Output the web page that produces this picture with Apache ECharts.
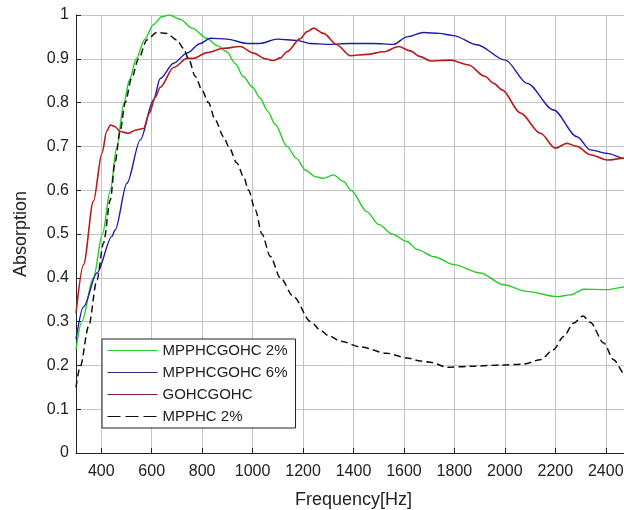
<!DOCTYPE html>
<html>
<head>
<meta charset="utf-8">
<script src="https://cdn.jsdelivr.net/npm/echarts@6/dist/echarts.min.js"></script>
<style>html,body{margin:0;padding:0;background:#fff}#c{width:624px;height:510px}</style>
</head>
<body>
<div id="c"></div>
<script>
const seriesNames = ['MPPHCGOHC 2%', 'MPPHCGOHC 6%', 'GOHCGOHC', 'MPPHC 2%'];
const xTicks = [400, 600, 800, 1000, 1200, 1400, 1600, 1800, 2000, 2200, 2400];

const greenData = [[300,0.236],[323,0.30],[369,0.40],[405,0.50],[436,0.60],[462,0.70],[490,0.80],[512,0.852],[539,0.90],[572,0.944],[607,0.978],[640,0.996],[670,1.0],[713,0.99],[760,0.97],[819,0.947],[860,0.93],[898,0.916],[930,0.89],[964,0.859],[1000,0.835],[1030,0.81],[1060,0.78],[1090,0.75],[1136,0.70],[1175,0.672],[1209,0.646],[1248,0.631],[1281,0.627],[1320,0.635],[1361,0.62],[1390,0.60],[1453,0.551],[1500,0.522],[1553,0.50],[1612,0.483],[1652,0.465],[1720,0.448],[1797,0.43],[1903,0.411],[1995,0.384],[2088,0.369],[2207,0.357],[2260,0.361],[2313,0.374],[2405,0.373],[2474,0.379],[2500,0.38]];

const blueData = [[300,0.26],[330,0.334],[383,0.411],[442,0.494],[455,0.509],[502,0.616],[555,0.715],[607,0.806],[634,0.855],[687,0.89],[740,0.913],[793,0.935],[832,0.947],[898,0.945],[978,0.935],[1030,0.935],[1097,0.945],[1176,0.942],[1229,0.935],[1300,0.933],[1387,0.935],[1480,0.935],[1559,0.933],[1612,0.95],[1678,0.96],[1740,0.958],[1797,0.953],[1889,0.932],[2002,0.897],[2088,0.844],[2193,0.783],[2286,0.722],[2339,0.692],[2405,0.684],[2474,0.673],[2500,0.67]];

const redData = [[300,0.319],[330,0.43],[369,0.575],[403,0.684],[422,0.735],[436,0.749],[455,0.745],[475,0.734],[508,0.73],[535,0.737],[568,0.741],[590,0.775],[614,0.812],[634,0.835],[687,0.88],[740,0.901],[766,0.901],[819,0.914],[885,0.924],[951,0.928],[1004,0.913],[1050,0.9],[1083,0.896],[1110,0.902],[1136,0.916],[1189,0.946],[1216,0.962],[1242,0.97],[1281,0.958],[1334,0.932],[1387,0.907],[1453,0.91],[1519,0.916],[1579,0.928],[1625,0.918],[1665,0.905],[1705,0.895],[1785,0.897],[1856,0.886],[1920,0.86],[1956,0.844],[1989,0.829],[2062,0.776],[2141,0.73],[2200,0.696],[2246,0.707],[2286,0.70],[2339,0.681],[2405,0.669],[2474,0.673],[2500,0.674]];

const blackData = [[300,0.15],[317,0.198],[350,0.289],[383,0.395],[409,0.479],[436,0.578],[455,0.665],[475,0.735],[495,0.80],[520,0.855],[548,0.90],[581,0.943],[620,0.96],[660,0.958],[700,0.943],[726,0.924],[746,0.90],[773,0.86],[799,0.829],[825,0.80],[852,0.76],[885,0.722],[905,0.70],[938,0.662],[964,0.631],[984,0.60],[1011,0.555],[1037,0.50],[1070,0.449],[1110,0.40],[1162,0.357],[1230,0.30],[1270,0.28],[1300,0.268],[1350,0.255],[1430,0.242],[1530,0.228],[1612,0.217],[1665,0.21],[1705,0.207],[1771,0.196],[1864,0.198],[1995,0.201],[2074,0.203],[2141,0.213],[2193,0.236],[2233,0.266],[2273,0.297],[2310,0.313],[2339,0.298],[2392,0.251],[2431,0.213],[2474,0.181],[2500,0.165]];

const colors = ['#26cc26', '#1c1ca8', '#b71c1c', '#111111'];
const FONT = '"Liberation Sans", Arial, sans-serif';

const chart = echarts.init(document.getElementById('c'), null, {renderer: 'canvas'});
function mk(name, data, color, extra) {
  return Object.assign({
    name: name, type: 'line', data: data, symbol: 'none', smooth: 0.3, smoothMonotone: 'x',
    lineStyle: {color: color, width: 1.4}, itemStyle: {color: color}, animation: false
  }, extra || {});
}
chart.setOption({
  animation: false,
  backgroundColor: '#fff',
  grid: {left: 76, right: -7, top: 15, bottom: 57, containLabel: false, outerBoundsMode: 'none'},
  legend: {
    orient: 'vertical', left: 102, top: 339,
    itemWidth: 50, itemHeight: 14, itemGap: 7,
    padding: [4, 8, 4, 5],
    borderColor: '#222', borderWidth: 1, backgroundColor: '#fff',
    itemStyle: {opacity: 0},
    lineStyle: {width: 1},
    textStyle: {fontSize: 15, color: '#222', fontFamily: FONT},
    data: [
      {name: seriesNames[0]},
      {name: seriesNames[1], lineStyle: {color: '#2a2a6a'}},
      {name: seriesNames[2], lineStyle: {color: '#8a1a1a'}},
      {name: seriesNames[3], lineStyle: {type: [13, 5]}}
    ]
  },
  xAxis: {
    type: 'value', min: 300, max: 2500,
    name: 'Frequency[Hz]', nameLocation: 'middle', nameGap: 38,
    nameTextStyle: {fontSize: 18, color: '#222', fontFamily: FONT},
    axisLine: {lineStyle: {color: '#222', width: 1}},
    axisTick: {inside: true, length: 5, customValues: xTicks, lineStyle: {color: '#222'}},
    axisLabel: {customValues: xTicks, fontSize: 16, color: '#222', margin: 11, fontFamily: FONT,
      formatter: function (v) { return String(v); }},
    splitLine: {show: true, lineStyle: {color: '#c4c4c4', width: 1}}
  },
  yAxis: {
    type: 'value', min: 0, max: 1, interval: 0.1,
    name: 'Absorption', nameLocation: 'middle', nameGap: 46, nameRotate: 90,
    nameTextStyle: {fontSize: 18, color: '#222', fontFamily: FONT},
    axisLine: {show: true, lineStyle: {color: '#222', width: 1}},
    axisTick: {show: true, inside: true, length: 5, lineStyle: {color: '#222'}},
    axisLabel: {fontSize: 16, color: '#222', margin: 7, fontFamily: FONT},
    splitLine: {show: true, lineStyle: {color: '#c4c4c4', width: 1}}
  },
  series: [
    mk(seriesNames[0], greenData, colors[0]),
    mk(seriesNames[1], blueData, colors[1]),
    mk(seriesNames[2], redData, colors[2], {lineStyle: {color: colors[2], width: 1.6}}),
    mk(seriesNames[3], blackData, colors[3], {lineStyle: {color: colors[3], width: 1.5, type: [7, 4]}})
  ]
});
</script>
</body>
</html>
